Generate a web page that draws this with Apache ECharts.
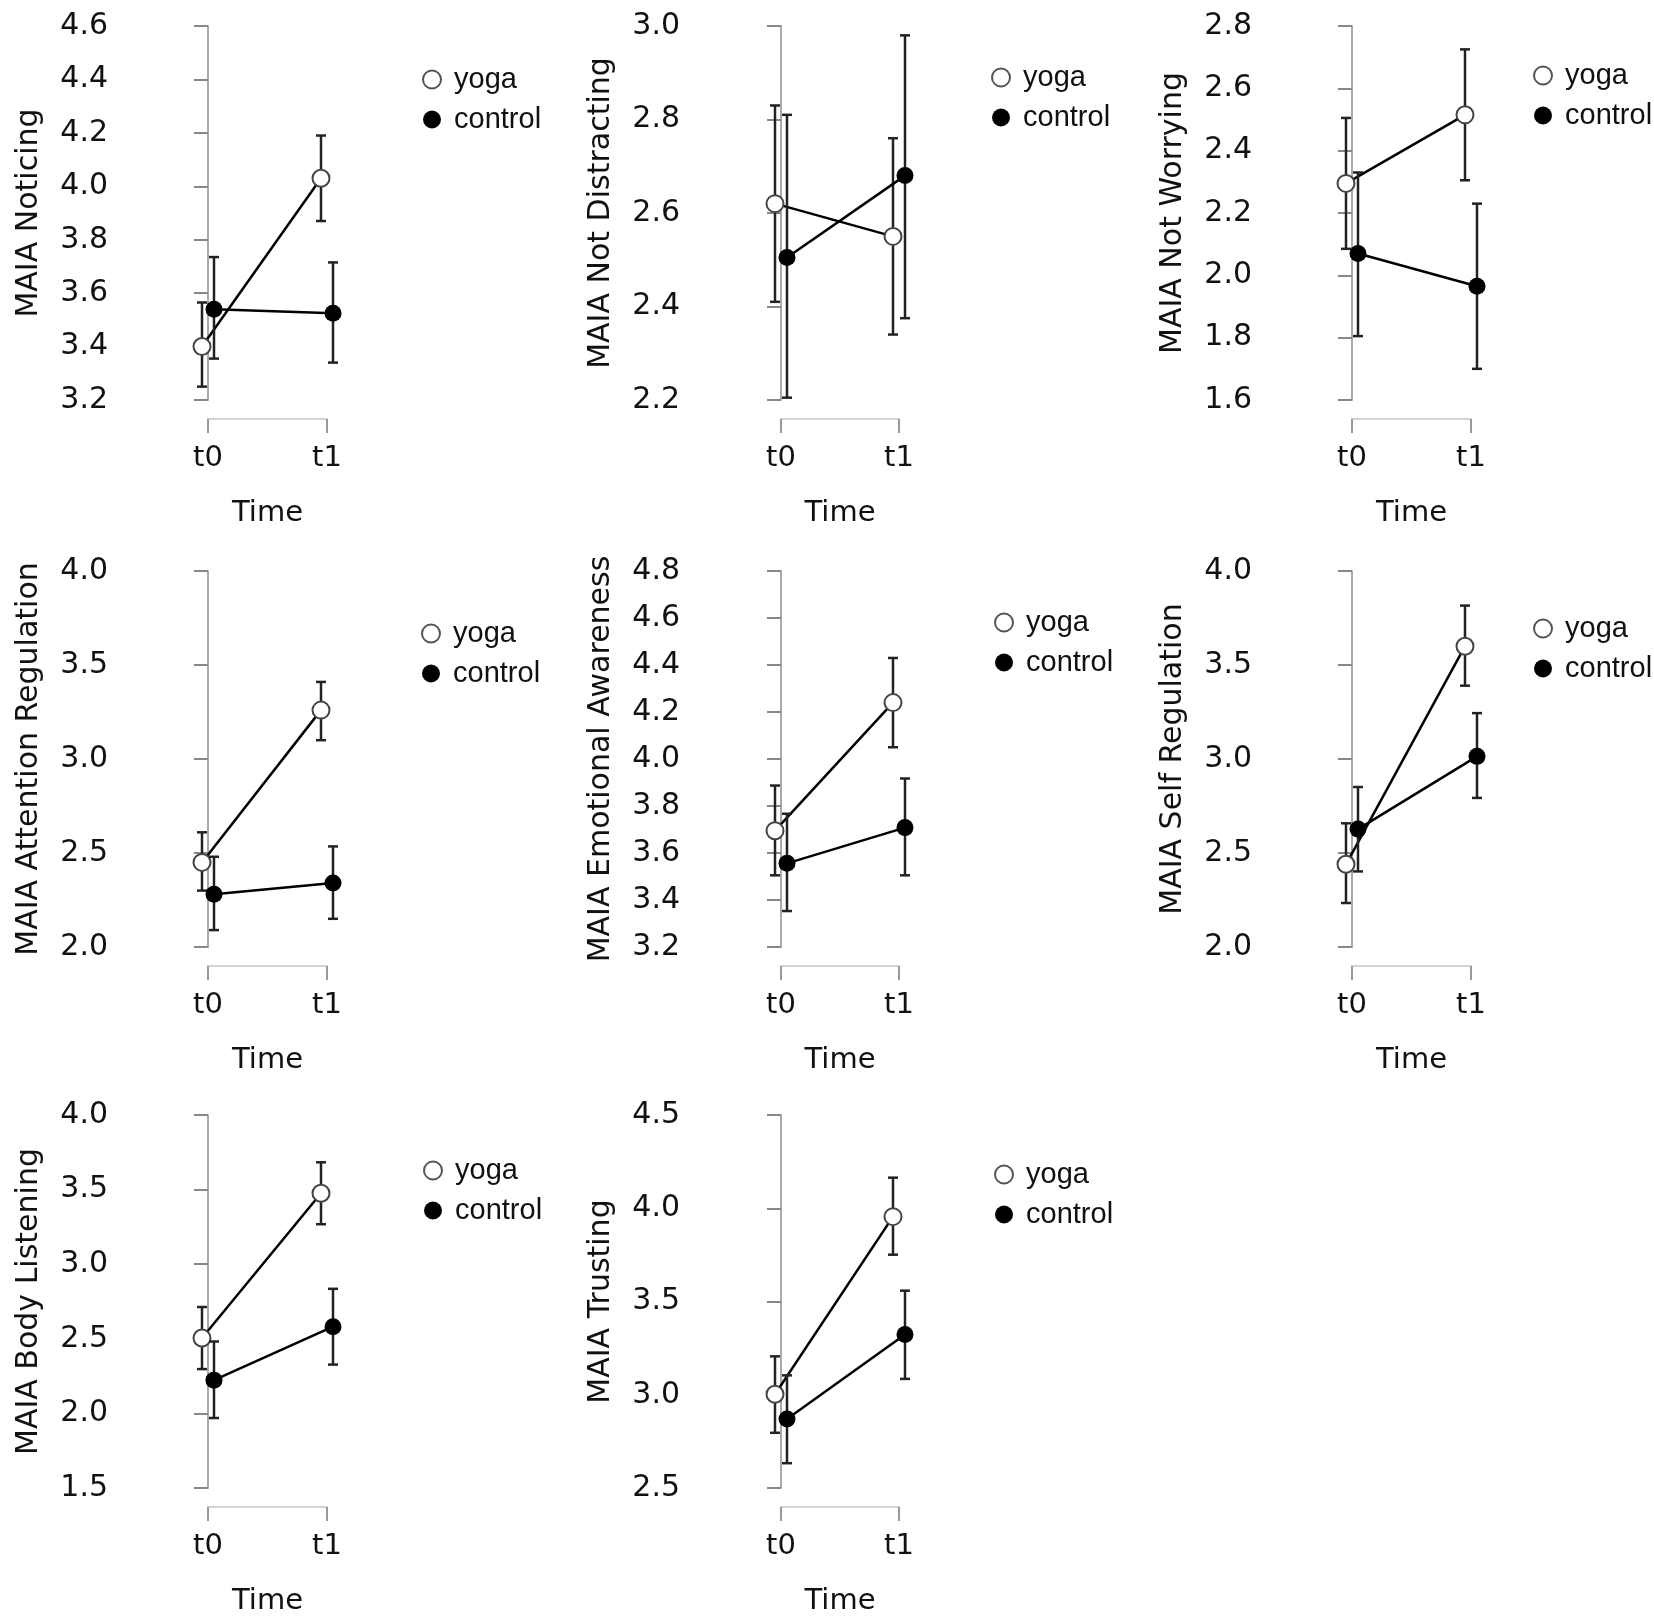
<!DOCTYPE html>
<html>
<head>
<meta charset="utf-8">
<title>MAIA scales: yoga vs control</title>
<script src="https://cdn.jsdelivr.net/npm/echarts@6.0.0/dist/echarts.min.js"></script>
<style>
  html, body { margin: 0; padding: 0; background: #fff; }
  #chart { width: 1654px; height: 1624px; }
</style>
</head>
<body>
<div id="chart"></div>
<script>
// values: group mean and error bar ends at t0 / t1
const timePoints = ['t0', 't1'];
const scaleNames = [
	'MAIA Noticing', 'MAIA Not Distracting', 'MAIA Not Worrying',
	'MAIA Attention Regulation', 'MAIA Emotional Awareness', 'MAIA Self Regulation',
	'MAIA Body Listening', 'MAIA Trusting'
];

const yogaMean = [[3.40, 4.03], [2.62, 2.55], [2.295, 2.515], [2.45, 3.26], [3.695, 4.24], [2.44, 3.60], [2.505, 3.476], [3.003, 3.955]];
const yogaLow = [[3.25, 3.87], [2.41, 2.34], [2.085, 2.305], [2.30, 3.10], [3.505, 4.05], [2.234, 3.39], [2.297, 3.268], [2.796, 3.751]];
const yogaHigh = [[3.565, 4.19], [2.83, 2.76], [2.505, 2.725], [2.61, 3.41], [3.887, 4.43], [2.658, 3.816], [2.713, 3.683], [3.206, 4.164]];

const controlMean = [[3.54, 3.525], [2.505, 2.68], [2.07, 1.965], [2.28, 2.34], [3.556, 3.708], [2.627, 3.014], [2.223, 2.581], [2.87, 3.323]];
const controlLow = [[3.355, 3.34], [2.205, 2.375], [1.805, 1.70], [2.09, 2.15], [3.353, 3.505], [2.402, 2.793], [1.969, 2.327], [2.633, 3.085]];
const controlHigh = [[3.735, 3.715], [2.81, 2.98], [2.33, 2.23], [2.48, 2.535], [3.767, 3.917], [2.851, 3.244], [2.482, 2.835], [3.104, 3.558]];

// y axis ranges / tick step per panel
const axisMin = [3.2, 2.2, 1.6, 2.0, 3.2, 2.0, 1.5, 2.5];
const axisMax = [4.6, 3.0, 2.8, 4.0, 4.8, 4.0, 4.0, 4.5];
const axisStep = [0.2, 0.2, 0.2, 0.5, 0.2, 0.5, 0.5, 0.5];

// layout (pixels)
const colT0 = [208, 781, 1352];
const colAxis = [137, 709, 1281];
const colWidth = [119, 118, 119];
const rowTop = [26, 571, 1115];
const rowHeight = [374, 376, 373];
const legendX = [431, 1000, 1542, 430, 1003, 1542, 432, 1003];
const legendY = [79, 77, 75, 633, 622, 628, 1170, 1174];

const chart = echarts.init(document.getElementById('chart'));

const FONT = 'DejaVu Sans';
const CAP = 5;

function renderGroup(dx, filled) {
	return function (params, api) {
		const x = api.value(0);
		const p = api.coord([x, api.value(1)]);
		const lo = api.coord([x, api.value(2)]);
		const hi = api.coord([x, api.value(3)]);
		const cx = p[0] + dx;
		const bar = { stroke: '#222', lineWidth: 2.5 };
		const children = [];
		if (params.dataIndexInside === 0) {
			// connecting line to the t1 point
			const q = api.coord([api.value(0, 1), api.value(1, 1)]);
			children.push({
				type: 'line',
				shape: { x1: cx, y1: p[1], x2: q[0] + dx, y2: q[1] },
				style: { stroke: '#000', lineWidth: 2.5 }
			});
		}
		children.push(
			{ type: 'line', shape: { x1: cx, y1: hi[1], x2: cx, y2: lo[1] }, style: bar },
			{ type: 'line', shape: { x1: cx - CAP, y1: hi[1], x2: cx + CAP, y2: hi[1] }, style: bar },
			{ type: 'line', shape: { x1: cx - CAP, y1: lo[1], x2: cx + CAP, y2: lo[1] }, style: bar },
			{
				type: 'circle',
				shape: { cx: cx, cy: p[1], r: 8.5 },
				style: filled ? { fill: '#000' } : { fill: '#fff', stroke: '#444', lineWidth: 2 }
			}
		);
		return { type: 'group', children: children };
	};
}

function groupData(mean, low, high, k) {
	return timePoints.map((t, i) => [i, mean[k][i], low[k][i], high[k][i]]);
}

const grid = [], xAxis = [], yAxis = [], series = [], legend = [];

scaleNames.forEach((name, k) => {
	const col = k % 3, row = Math.floor(k / 3);
	grid.push({
		left: colT0[col], top: rowTop[row], width: colWidth[col], height: rowHeight[row],
		containLabel: false, outerBoundsMode: 'none'
	});
	xAxis.push({
		gridIndex: k, type: 'value', min: 0, max: 1, interval: 1,
		offset: 19,
		name: 'Time', nameLocation: 'middle', nameGap: 80,
		nameTextStyle: { fontFamily: FONT, fontSize: 29, color: '#111' },
		axisLine: { show: true, lineStyle: { color: '#d4d4d4', width: 2 } },
		axisTick: { show: true, inside: false, length: 14, lineStyle: { color: '#999', width: 2 } },
		axisLabel: {
			margin: 25, fontFamily: FONT, fontSize: 29, color: '#111',
			showMinLabel: true, showMaxLabel: true,
			formatter: v => timePoints[v]
		},
		splitLine: { show: false }
	});
	yAxis.push({
		gridIndex: k, type: 'value', min: axisMin[k], max: axisMax[k], interval: axisStep[k],
		offset: colT0[col] - colAxis[col],
		name: name, nameLocation: 'middle', nameGap: 93,
		nameTextStyle: { fontFamily: FONT, fontSize: 30, color: '#111' },
		axisLine: { show: true, lineStyle: { color: '#aaa', width: 2 } },
		axisTick: { show: true, inside: false, length: 14, lineStyle: { color: '#888', width: 2 } },
		axisLabel: {
			margin: 29, fontFamily: FONT, fontSize: 30, color: '#111',
			formatter: v => v.toFixed(1)
		},
		splitLine: { show: false }
	});
	series.push({
		type: 'custom', name: 'yoga', xAxisIndex: k, yAxisIndex: k,
		renderItem: renderGroup(-6, false),
		encode: { x: 0, y: [1, 2, 3] },
		data: groupData(yogaMean, yogaLow, yogaHigh, k)
	}, {
		type: 'custom', name: 'control', xAxisIndex: k, yAxisIndex: k,
		renderItem: renderGroup(6, true),
		encode: { x: 0, y: [1, 2, 3] },
		data: groupData(controlMean, controlLow, controlHigh, k)
	});
	legend.push({
		orient: 'vertical', left: legendX[k] - 9, top: legendY[k] - 14,
		padding: 0, itemWidth: 18, itemHeight: 18, itemGap: 11,
		selectedMode: false,
		formatter: n => ' ' + n,
		textStyle: { fontFamily: 'Liberation Sans', fontSize: 29, color: '#111' },
		data: [
			{ name: 'yoga', icon: 'circle', itemStyle: { color: '#fff', borderColor: '#555', borderWidth: 2 } },
			{ name: 'control', icon: 'circle', itemStyle: { color: '#000', borderWidth: 0 } }
		]
	});
});

chart.setOption({
	animation: false,
	backgroundColor: '#fff',
	grid: grid,
	xAxis: xAxis,
	yAxis: yAxis,
	legend: legend,
	series: series
});
</script>
</body>
</html>
